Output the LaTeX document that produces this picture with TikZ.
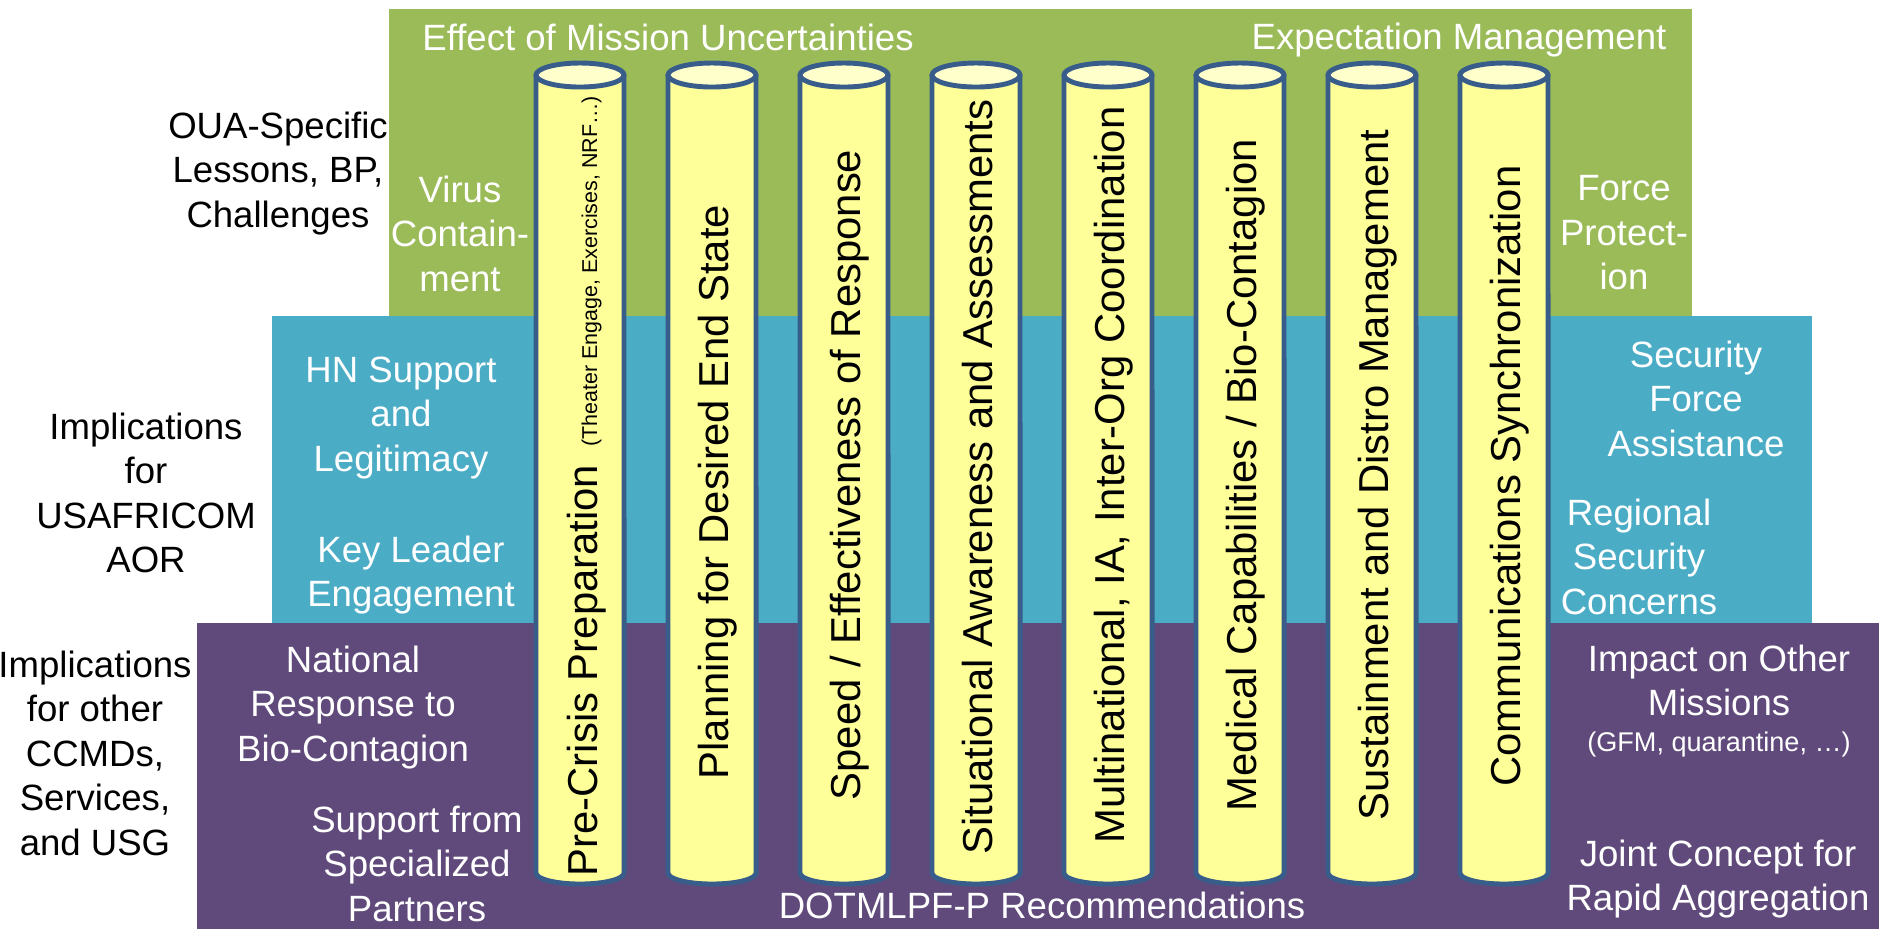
\documentclass[tikz,border=0pt]{standalone}
\usepackage{fontspec}
\setmainfont{Liberation Sans}
\usepackage{tikz}
\definecolor{bandgreen}{RGB}{155, 187, 89}
\definecolor{bandblue}{RGB}{75, 172, 198}
\definecolor{bandpurple}{RGB}{96, 74, 123}
\definecolor{pillarfill}{RGB}{255, 255, 153}
\definecolor{pillarlid}{RGB}{255, 255, 204}
\definecolor{pillarline}{RGB}{56, 93, 138}

\begin{document}
\begin{tikzpicture}[
    x=0.01cm, y=-0.01cm,
    pillar/.style={fill=pillarfill, draw=pillarline, line width=1.4pt},
    lid/.style={fill=pillarlid, draw=pillarline, line width=1.4pt},
    pillartext/.style={rotate=90, inner sep=0pt, font=\fontsize{11.9}{14}\selectfont},
    tier/.style={align=center, inner sep=0pt, anchor=north, font=\fontsize{10.4}{12.66}\selectfont},
    inside/.style={tier, text=white},
    outside/.style={tier, text=black}
]

    \useasboundingbox (0,0) rectangle (1879,929);

    \fill[bandgreen] (389,9) rectangle (1692,316);
    \fill[bandblue] (272,316) rectangle (1812,623);
    \fill[bandpurple] (197,623) rectangle (1879,929);

    \foreach \cx in {580,712,...,1504} {
        \filldraw[pillar] (\cx-44,75) -- (\cx-44,873) arc[start angle=180, end angle=360, x radius=0.44cm, y radius=0.11cm] -- (\cx+44,75);
        \filldraw[lid] (\cx,75) ellipse [x radius=0.44cm, y radius=0.12cm];
    }

    \node[outside] (oua) at (278,111) {OUA-Specific\\Lessons, BP,\\Challenges};
    \node[outside] (aor) at (146,412) {Implications\\for\\USAFRICOM\\AOR};
    \node[outside] (usg) at (95,650) {Implications\\for other\\CCMDs,\\Services,\\and USG};

    \node[inside] (uncert) at (668,23) {Effect of Mission Uncertainties};
    \node[inside] (expect) at (1459,22) {Expectation Management};
    \node[inside] (virus) at (460,175) {Virus\\Contain-\\ment};
    \node[inside] (force) at (1624,175) {Force\\Protect-\\ion};

    \node[inside] (hn) at (401,356) {HN Support\\and\\Legitimacy};
    \node[inside] (kle) at (411,535) {Key Leader\\Engagement};
    \node[inside] (sfa) at (1696,340) {Security\\Force\\Assistance};
    \node[inside] (rsc) at (1639,498) {Regional\\Security\\Concerns};

    \node[inside] (nrbc) at (353,645) {National\\Response to\\Bio-Contagion};
    \node[inside] (spp) at (417,805) {Support from\\Specialized\\Partners};
    \node[inside] (impact) at (1719,644) {Impact on Other\\Missions\\[-2.4pt]{\fontsize{7.7}{9}\selectfont (GFM, quarantine, …)}};
    \node[inside] (jcra) at (1718,839) {Joint Concept for\\Rapid Aggregation};
    \node[inside] (dotmlpf) at (1042,891) {DOTMLPF-P Recommendations};

    \node[pillartext, anchor=base west] (precrisis) at (597,877) {Pre-Crisis Preparation\hspace{0.18cm}{\fontsize{6.1}{7}\selectfont(Theater Engage, Exercises, NRF…)}};
    \node[pillartext, anchor=base] (planning) at (728,492) {Planning for Desired End State};
    \node[pillartext, anchor=base] (speed) at (860,475) {Speed / Effectiveness of Response};
    \node[pillartext, anchor=base] (aware) at (992,477) {Situational Awareness and Assessments};
    \node[pillartext, anchor=base] (multi) at (1124,475) {Multinational, IA, Inter-Org Coordination};
    \node[pillartext, anchor=base] (medical) at (1256,475) {Medical Capabilities / Bio-Contagion};
    \node[pillartext, anchor=base] (sustain) at (1388,475) {Sustainment and Distro Management};
    \node[pillartext, anchor=base] (comms) at (1520,476) {Communications Synchronization};

\end{tikzpicture}
\end{document}
